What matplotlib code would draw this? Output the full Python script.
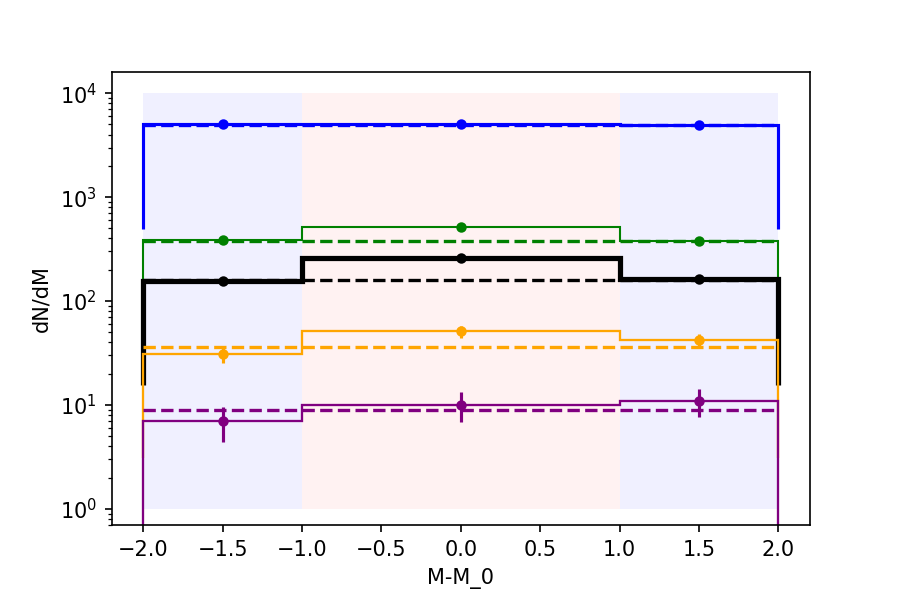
import matplotlib
matplotlib.use('Agg')
import matplotlib.pyplot as plt
import numpy as np

# bin edges and shaded regions
edges = [-2.0, -1.0, 1.0, 2.0]
centers = [-1.5, 0.0, 1.5]
side_regions = [(-2.0, -1.0), (1.0, 2.0)]
mid_region = (-1.0, 1.0)
shade_y = (1, 1e4)

# observed counts per bin (histogram + points)
blue_obs = [5000, 5100, 4950]
green_obs = [385, 515, 375]
black_obs = [157, 258, 163]
orange_obs = [31, 51, 42]
purple_obs = [7, 10, 11]

# errors on the points
blue_err = [71, 71, 70]
green_err = [19.6, 22.7, 19.4]
black_err = [12.5, 16.1, 12.8]
orange_err = [5.6, 7.1, 6.5]
purple_err = [2.6, 3.2, 3.3]

# expected levels (dashed)
blue_exp = 4950
green_exp = 380
black_exp = 160
orange_exp = 36.5
purple_exp = 9.0

series = [
    ('blue', blue_obs, blue_err, blue_exp, 1.5),
    ('green', green_obs, green_err, green_exp, 1.0),
    ('black', black_obs, black_err, black_exp, 2.5),
    ('orange', orange_obs, orange_err, orange_exp, 1.1),
    ('purple', purple_obs, purple_err, purple_exp, 1.1),
]

fig, ax = plt.subplots(figsize=(6, 4), dpi=150)
fig.subplots_adjust(left=0.124, right=0.9, top=0.88, bottom=0.125)

for lo, hi in side_regions:
    ax.fill_between([lo, hi], shade_y[0], shade_y[1], color='blue', alpha=0.06, lw=0)
ax.fill_between(list(mid_region), shade_y[0], shade_y[1], color='red', alpha=0.05, lw=0)

for color, obs, err, exp, lw in series:
    obs = np.array(obs, dtype=float)
    # old-style log hist: step drops to a tenth of the smallest bin
    ax.stairs(obs, edges, baseline=obs.min() / 10, color=color, lw=lw)
    ax.plot([edges[0], edges[-1]], [exp, exp], '--', color=color, lw=1.6)
    ax.errorbar(centers, obs, yerr=err, fmt='o', color=color, ms=4, elinewidth=1.5)

ax.set_yscale('log')
ax.set_xlim(-2.2, 2.2)
ax.set_ylim(0.7, 1.6e4)
ax.set_xlabel('M-M_0')
ax.set_ylabel('dN/dM')

plt.savefig('out.png', dpi=150)
